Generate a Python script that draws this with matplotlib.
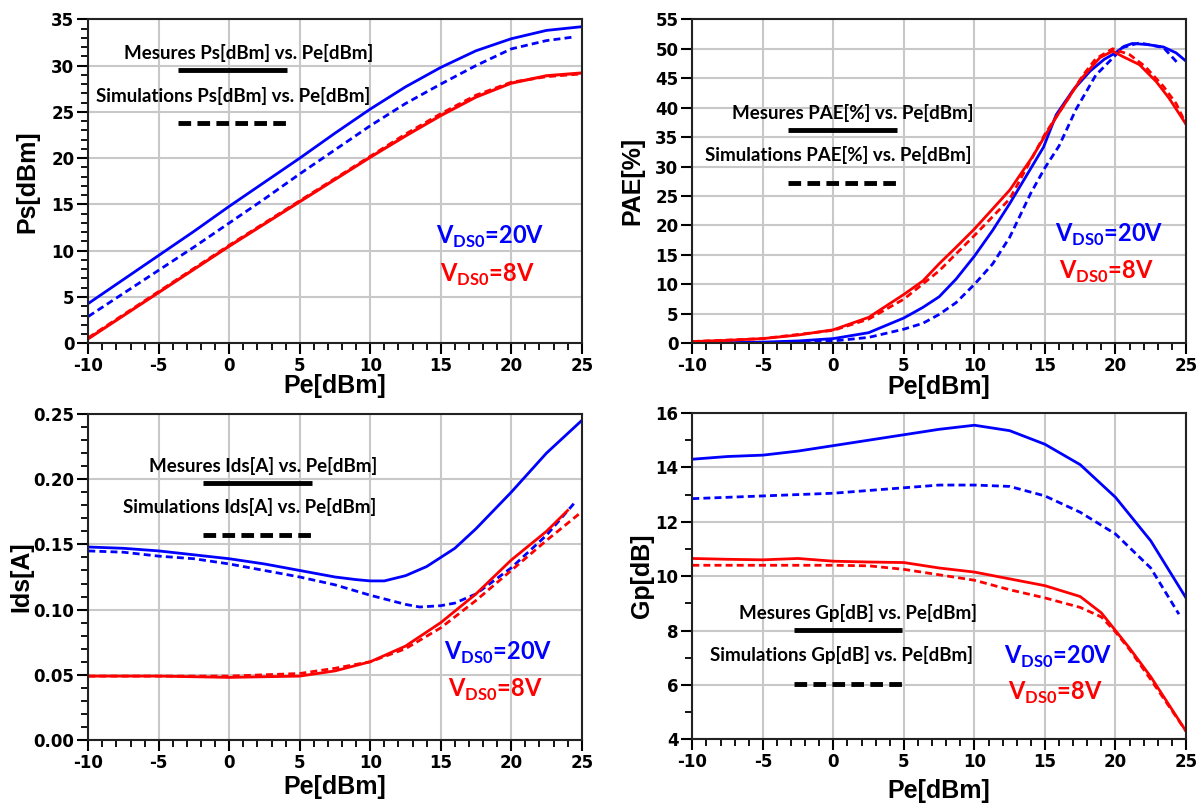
import numpy as np
import matplotlib
matplotlib.use("Agg")
import matplotlib.pyplot as plt
from matplotlib.ticker import MultipleLocator, FormatStrFormatter

plt.rcParams['font.family'] = ['Liberation Sans', 'DejaVu Sans']
plt.rcParams['font.weight'] = 'bold'
plt.rcParams['axes.unicode_minus'] = False
plt.rcParams['mathtext.fontset'] = 'custom'
plt.rcParams['mathtext.bf'] = 'Lato:bold'
plt.rcParams['mathtext.rm'] = 'Lato'

BLUE = "#0000ff"
RED = "#ff0000"

# ---- Ps vs Pe ----
pe_ps = [-10, -7.5, -5, -2.5, 0, 2.5, 5, 7.5, 10, 12.5, 15, 17.5, 20, 22.5, 25]
pe_ps_sim20 = [-10, -7.5, -5, -2.5, 0, 2.5, 5, 7.5, 10, 12.5, 15, 17.5, 20, 22.5, 24.5]
ps_meas_20 = [4.3, 6.9, 9.5, 12.1, 14.8, 17.4, 20.0, 22.7, 25.3, 27.7, 29.8, 31.6, 32.9, 33.8, 34.2]
ps_sim_20 = [2.9, 5.4, 7.9, 10.4, 13.0, 15.6, 18.3, 20.9, 23.5, 25.9, 28.0, 30.0, 31.8, 32.7, 33.1]
ps_meas_8 = [0.5, 3.0, 5.5, 8.0, 10.5, 12.9, 15.3, 17.7, 20.1, 22.4, 24.6, 26.6, 28.1, 28.9, 29.2]
ps_sim_8 = [0.6, 3.1, 5.6, 8.1, 10.6, 13.0, 15.4, 17.8, 20.2, 22.6, 24.8, 26.8, 28.2, 28.8, 29.1]

# ---- PAE vs Pe ----
pe_pae_meas20 = [-10, -5, -2.5, 0, 2.5, 5, 6.35, 7.5, 8.7, 10, 11.3, 12.5, 14.9, 15.8, 17, 18.2, 19.2, 20,
                 20.6, 21.2, 22.3, 23.4, 24.3, 25]
pae_meas_20 = [0.0, 0.2, 0.4, 0.8, 1.8, 4.3, 6.1, 7.9, 10.9, 14.8, 19.2, 23.7, 33.3, 38.8, 43.0, 46.2, 48.2, 49.3,
               50.4, 50.9, 50.7, 50.3, 49.3, 47.9]
pe_pae_sim20 = [-10, -5, 0, 2.5, 5, 6.35, 7.5, 8.7, 10, 11.3, 12.5, 14, 15, 16, 17.2, 18.6, 20, 20.5, 21.7,
                23.4, 24.4]
pae_sim_20 = [0.0, 0.1, 0.4, 1.0, 2.4, 3.4, 4.9, 6.9, 10.0, 13.5, 18.0, 25.5, 29.8, 33.5, 39.7, 45.5, 48.9,
              50.2, 51.0, 50.2, 47.6]
pe_pae_meas8 = [-10, -7.5, -5, -2.5, 0, 2.5, 5, 6.35, 7.5, 8.7, 10, 12.5, 14.1, 15.8, 17.5, 18.9, 19.8, 20.5,
                21.7, 22.9, 23.8, 25]
pae_meas_8 = [0.3, 0.5, 0.8, 1.4, 2.3, 4.4, 8.3, 10.6, 13.5, 16.3, 19.4, 26.0, 31.6, 38.4, 44.7, 48.5, 49.6,
              48.7, 47.3, 44.4, 41.6, 37.2]
pe_pae_sim8 = [-10, -5, 0, 2.5, 5, 7.5, 10, 12.5, 15, 16.5, 17.7, 18.6, 19.8, 21, 22.1, 23.4, 24.3, 25]
pae_sim_8 = [0.3, 0.8, 2.2, 4.1, 7.5, 12.3, 18.3, 24.5, 35.5, 41.0, 45.5, 48.3, 50.0, 49.0, 47.0, 43.6, 40.7, 37.2]

# ---- Ids vs Pe ----
pe_ids_meas20 = [-10, -7.5, -5, -2.5, 0, 2.5, 5, 7.5, 9, 10, 11, 12.5, 14, 15, 16, 17.5, 20, 22.5, 25]
ids_meas_20 = [0.148, 0.147, 0.145, 0.142, 0.139, 0.135, 0.130, 0.125, 0.123, 0.122, 0.122, 0.126, 0.133,
               0.140, 0.147, 0.162, 0.190, 0.220, 0.245]
pe_ids_sim20 = [-10, -7.5, -5, -2.5, 0, 2.5, 5, 7.5, 10, 12.5, 13.5, 15, 16, 17.5, 20, 22.5, 24.5]
ids_sim_20 = [0.145, 0.144, 0.141, 0.139, 0.135, 0.130, 0.125, 0.119, 0.111, 0.104, 0.102, 0.103, 0.105,
              0.112, 0.132, 0.157, 0.182]
pe_ids_meas8 = [-10, -5, 0, 5, 7.5, 10, 12.5, 15, 17.5, 20, 22.5, 24]
ids_meas_8 = [0.049, 0.049, 0.048, 0.049, 0.053, 0.060, 0.072, 0.090, 0.112, 0.138, 0.160, 0.176]
pe_ids_sim8 = [-10, -5, 0, 5, 7.5, 10, 12.5, 15, 17.5, 20, 22.5, 25]
ids_sim_8 = [0.049, 0.049, 0.049, 0.051, 0.055, 0.060, 0.070, 0.086, 0.107, 0.130, 0.153, 0.175]

# ---- Gp vs Pe ----
pe_gp = [-10, -7.5, -5, -2.5, 0, 2.5, 5, 7.5, 10, 12.5, 15, 17.5, 20, 22.5, 25]
pe_gp_sim20 = [-10, -7.5, -5, -2.5, 0, 2.5, 5, 7.5, 10, 12.5, 15, 17.5, 20, 22.5, 24.5]
gp_meas_20 = [14.3, 14.4, 14.45, 14.6, 14.8, 15.0, 15.2, 15.4, 15.55, 15.35, 14.85, 14.1, 12.9, 11.3, 9.2]
gp_sim_20 = [12.85, 12.9, 12.95, 13.0, 13.05, 13.15, 13.25, 13.35, 13.35, 13.3, 12.95, 12.35, 11.55, 10.3, 8.6]
pe_gp8 = [-10, -7.5, -5, -2.5, 0, 2.5, 5, 7.5, 10, 12.5, 15, 17.5, 19, 20, 21, 22.5, 25]
gp_meas_8 = [10.65, 10.62, 10.6, 10.65, 10.55, 10.52, 10.5, 10.3, 10.15, 9.9, 9.65, 9.25, 8.65, 8.0, 7.35, 6.3, 4.3]
gp_sim_8 = [10.4, 10.4, 10.4, 10.4, 10.4, 10.38, 10.25, 10.05, 9.85, 9.5, 9.2, 8.85, 8.5, 7.95, 7.3, 6.2, 4.3]

DASH = (0, (2.5, 1.5))


def setup_axes(ax, ylim, ymajor, yminor, ylabel, yfmt, ylab_x, xlab_y):
    ax.set_xlim(-10, 25)
    ax.set_ylim(*ylim)
    ax.xaxis.set_major_locator(MultipleLocator(5))
    ax.xaxis.set_minor_locator(MultipleLocator(1))
    ax.yaxis.set_major_locator(MultipleLocator(ymajor))
    if yminor:
        ax.yaxis.set_minor_locator(MultipleLocator(yminor))
    else:
        ax.yaxis.set_minor_locator(plt.NullLocator())
    ax.yaxis.set_major_formatter(FormatStrFormatter(yfmt))
    ax.grid(True, which="major", color="#c8c8c8", linewidth=1.5)
    ax.set_axisbelow(True)
    for s in ax.spines.values():
        s.set_linewidth(1.5)
        s.set_color("#222222")
    ax.tick_params(which="major", direction="out", length=8, width=1.5,
                   labelsize=12, pad=2)
    ax.tick_params(which="minor", direction="out", length=5, width=1.3)
    ax.set_xlabel("Pe[dBm]", fontsize=18, fontweight="bold", va="center")
    ax.set_ylabel(ylabel, fontsize=18, fontweight="bold", va="center")
    ax.xaxis.set_label_coords(0.5, xlab_y)
    ax.yaxis.set_label_coords(ylab_x, 0.5)


def annotate(ax, name, mx, my, sx, sy, lx0, lx1, ly_solid, ly_dash, vx, vy20, vy8):
    ax.text(mx, my, "Mesures " + name + " vs. Pe[dBm]", transform=ax.transAxes,
            ha="center", va="center", fontsize=13.5, family="Lato", fontweight="bold")
    ax.text(sx, sy, "Simulations " + name + " vs. Pe[dBm]", transform=ax.transAxes,
            ha="center", va="center", fontsize=13.5, family="Lato", fontweight="bold")
    ax.plot([lx0, lx1], [ly_solid, ly_solid], transform=ax.transAxes, color="black", lw=3.5,
            solid_capstyle="butt")
    ax.plot([lx0, lx1], [ly_dash, ly_dash], transform=ax.transAxes, color="black", lw=3.5,
            linestyle=(0, (2.6, 1.3)))
    ax.text(vx, vy20, r"V$_{\mathbf{DS0}}$=20V", transform=ax.transAxes, ha="left", va="center",
            fontsize=17, family="Lato", fontweight="bold", color=BLUE)
    ax.text(vx + 0.008, vy8, r"V$_{\mathbf{DS0}}$=8V", transform=ax.transAxes, ha="left", va="center",
            fontsize=17, family="Lato", fontweight="bold", color=RED)


fig = plt.figure(figsize=(11.99, 8.05), dpi=100)
W, H = 1199, 805

ax1 = fig.add_axes([88.3 / W, (H - 343.3) / H, 493.4 / W, 324 / H])
ax2 = fig.add_axes([692.3 / W, (H - 343.3) / H, 493.7 / W, 324 / H])
ax3 = fig.add_axes([88.3 / W, (H - 740) / H, 493.4 / W, 326 / H])
ax4 = fig.add_axes([692.3 / W, (H - 739.3) / H, 493.7 / W, 326.3 / H])

# Ps
ax1.plot(pe_ps, ps_meas_20, color=BLUE, lw=2)
ax1.plot(pe_ps_sim20, ps_sim_20, color=BLUE, lw=2, linestyle=DASH)
ax1.plot(pe_ps, ps_meas_8, color=RED, lw=2.2)
ax1.plot(pe_ps, ps_sim_8, color=RED, lw=2, linestyle=DASH)
setup_axes(ax1, (0, 35), 5, 1, "Ps[dBm]", "%d", -61 / 493.4, -43 / 324)
annotate(ax1, "Ps[dBm]", 0.324, 0.897, 0.294, 0.764, 0.182, 0.402, 0.844, 0.680, 0.704, 0.329, 0.211)

# PAE
ax2.plot(pe_pae_meas20, pae_meas_20, color=BLUE, lw=2)
ax2.plot(pe_pae_sim20, pae_sim_20, color=BLUE, lw=2, linestyle=DASH)
ax2.plot(pe_pae_meas8, pae_meas_8, color=RED, lw=2)
ax2.plot(pe_pae_sim8, pae_sim_8, color=RED, lw=2, linestyle=DASH)
setup_axes(ax2, (0, 55), 5, None, "PAE[%]", "%d", -60 / 493.7, -44 / 324)
annotate(ax2, "PAE[%]", 0.3255, 0.712, 0.295, 0.581, 0.193, 0.414, 0.658, 0.496, 0.735, 0.334, 0.221)

# Ids
ax3.plot(pe_ids_meas20, ids_meas_20, color=BLUE, lw=2)
ax3.plot(pe_ids_sim20, ids_sim_20, color=BLUE, lw=2, linestyle=DASH)
ax3.plot(pe_ids_meas8, ids_meas_8, color=RED, lw=2)
ax3.plot(pe_ids_sim8, ids_sim_8, color=RED, lw=2, linestyle=DASH)
setup_axes(ax3, (0, 0.25), 0.05, 0.01, "Ids[A]", "%.2f", -67 / 493.4, -47 / 326)
annotate(ax3, "Ids[A]", 0.354, 0.841, 0.326, 0.714, 0.232, 0.454, 0.787, 0.628, 0.721, 0.266, 0.153)

# Gp
ax4.plot(pe_gp, gp_meas_20, color=BLUE, lw=2)
ax4.plot(pe_gp_sim20, gp_sim_20, color=BLUE, lw=2, linestyle=DASH)
ax4.plot(pe_gp8, gp_meas_8, color=RED, lw=2)
ax4.plot(pe_gp8, gp_sim_8, color=RED, lw=2, linestyle=DASH)
setup_axes(ax4, (4, 16), 2, 1, "Gp[dB]", "%d", -50 / 493.7, -52 / 326.3)
annotate(ax4, "Gp[dB]", 0.335, 0.386, 0.303, 0.258, 0.205, 0.425, 0.335, 0.169, 0.631, 0.253, 0.141)

# heavier tick labels, set after the ticks exist
fig.canvas.draw()
for ax in (ax1, ax2, ax3, ax4):
    for lab in ax.get_xticklabels() + ax.get_yticklabels():
        lab.set_family("DejaVu Sans")
        lab.set_fontweight("bold")

fig.savefig("out.png", dpi=100)
